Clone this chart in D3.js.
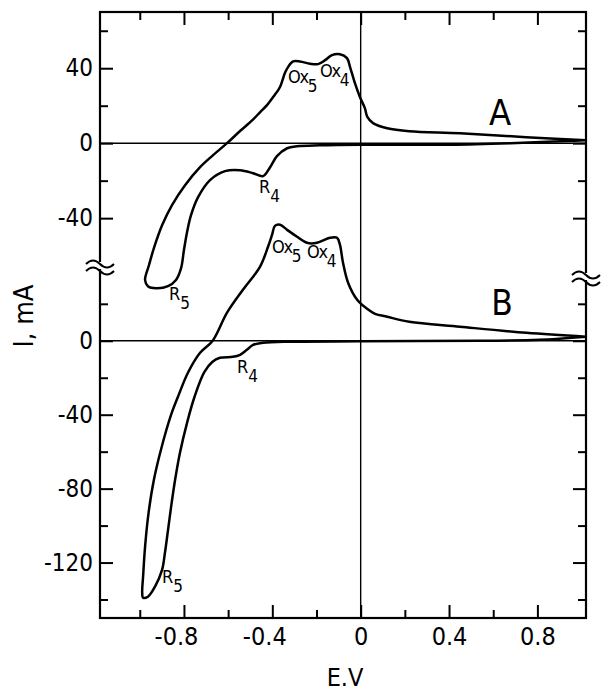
<!DOCTYPE html>
<html>
<head>
<meta charset="utf-8">
<script src="https://cdn.jsdelivr.net/npm/d3@7"></script>
<style>
  body { margin: 0; background: #fff; }
  text { font-family: 'DejaVu Sans Condensed', 'DejaVu Sans', sans-serif; fill: #000; }
</style>
</head>
<body>
<div id="chart"></div>
<script>
var svgWidth = 601;
var svgHeight = 692;

// curve A (upper voltammogram), E in V, I in mA
var potentialA = [1.02, 0.75, 0.45, 0.22, 0.12, 0.056, 0.03, 0.019, -0.003, -0.026, -0.048, -0.062, -0.094, -0.13, -0.161,
  -0.193, -0.229, -0.275, -0.306, -0.329, -0.343, -0.365, -0.397, -0.424, -0.456, -0.49, -0.546, -0.605, -0.668, -0.727, -0.795,
  -0.854, -0.899, -0.936, -0.958, -0.976, -0.963, -0.926, -0.872, -0.836, -0.813, -0.8, -0.786, -0.768, -0.736, -0.682,
  -0.614, -0.546, -0.487, -0.442, -0.41, -0.379, -0.333, -0.288, -0.184, 0, 0.4, 0.68, 0.9, 1.02];
var currentA = [1.6, 3.2, 5.3, 6.4, 8, 10.7, 14, 18.7, 24.5, 32, 40.6, 45.4, 47.5, 47, 44.3,
  42.2, 42.4, 43.6, 43.6, 40.6, 37.4, 30, 24.5, 20.3, 16.5, 12.3, 6.5, 0, -6.4, -12.8, -22.4,
  -33, -43.8, -56, -65, -73, -76.3, -77.4, -76.3, -73, -66.7, -57, -47.5, -38.4, -28.8, -19.7,
  -14.9, -14.4, -16, -17.6, -12.8, -6.9, -2.7, -1.6, -1.1, -0.8, -0.8, 0, 1, 1.6];

// curve B (lower voltammogram)
var potentialB = [1.02, 0.75, 0.45, 0.22, 0.12, 0.065, 0.029, -0.016, -0.057, -0.08, -0.094, -0.107, -0.139, -0.198, -0.243,
  -0.288, -0.333, -0.365, -0.388, -0.401, -0.419, -0.456, -0.533, -0.605, -0.67, -0.727, -0.782, -0.827, -0.858, -0.902,
  -0.936, -0.96, -0.976, -0.985, -0.989, -0.985, -0.963, -0.931, -0.899, -0.886, -0.872, -0.856, -0.84, -0.818, -0.786,
  -0.752, -0.708, -0.672, -0.637, -0.578, -0.546, -0.515, -0.487, -0.442, -0.32, 0, 0.54, 0.81, 1.02];
var currentB = [2.2, 4.3, 7.6, 10.3, 13, 14.6, 17.3, 22.2, 31.4, 42.2, 52, 55.7, 55.7, 53, 53,
  56.3, 60, 62.8, 62.2, 57.4, 51, 40, 27.6, 15.2, 0, -6.5, -17.3, -30.3, -40, -58,
  -75.2, -93, -111.5, -127.7, -135.8, -139, -138.5, -133, -124, -114.7, -102.3, -88, -75.2, -60.6, -44.4,
  -30.3, -17, -11.5, -9.2, -8.7, -7.6, -4.9, -2.2, -1.1, -0.5, -0.3, 0, 0.5, 2.2];

// ticks
var xMajor = [-0.8, -0.4, 0, 0.4, 0.8];
var xMajorLabels = ["-0.8", "-0.4", "0", "0.4", "0.8"];
var xMinor = [-1.0, -0.6, -0.2, 0.2, 0.6];
var yMajorA = [40, 0, -40];
var yMinorA = [60, 20, -20];
var yMajorB = [0, -40, -80, -120];
var yMinorB = [20, -20, -60, -100, -140];

var frame = { left: 100, right: 586, top: 12, bottom: 618, brk: 265 };

var svg = d3.select("#chart")
  .append("svg")
  .attr("width", svgWidth)
  .attr("height", svgHeight);

var x = d3.scaleLinear().domain([-1.18, 1.02]).range([frame.left, frame.right]);
var yA = d3.scaleLinear().domain([-65, 70]).range([frame.brk, frame.top]);
var yB = d3.scaleLinear().domain([-150, 41]).range([frame.bottom, frame.brk]);

// zero lines
svg.append("line")
  .attr("x1", frame.left).attr("x2", frame.right)
  .attr("y1", yA(0)).attr("y2", yA(0))
  .attr("stroke", "#000").attr("stroke-width", 1.4);
svg.append("line")
  .attr("x1", frame.left).attr("x2", frame.right)
  .attr("y1", yB(0)).attr("y2", yB(0))
  .attr("stroke", "#000").attr("stroke-width", 1.4);
svg.append("line")
  .attr("x1", x(0)).attr("x2", x(0))
  .attr("y1", frame.top).attr("y2", frame.bottom)
  .attr("stroke", "#000").attr("stroke-width", 1.4);

// axes helper
function styleAxis(g) {
  g.select(".domain").remove();
  g.selectAll(".tick line").attr("stroke", "#000").attr("stroke-width", 2);
  g.attr("font-family", null).attr("font-size", null);
  return g;
}

// left
svg.append("g").attr("transform", `translate(${frame.left},0)`)
  .call(d3.axisLeft(yA).tickValues(yMajorA).tickSize(-13).tickPadding(7).tickFormat(d => String(d)))
  .call(styleAxis)
  .selectAll("text").style("font-size", "24px");
svg.append("g").attr("transform", `translate(${frame.left},0)`)
  .call(d3.axisLeft(yA).tickValues(yMinorA).tickSize(-8).tickFormat(""))
  .call(styleAxis);
svg.append("g").attr("transform", `translate(${frame.left},0)`)
  .call(d3.axisLeft(yB).tickValues(yMajorB).tickSize(-13).tickPadding(7).tickFormat(d => String(d)))
  .call(styleAxis)
  .selectAll("text").style("font-size", "24px");
svg.append("g").attr("transform", `translate(${frame.left},0)`)
  .call(d3.axisLeft(yB).tickValues(yMinorB).tickSize(-8).tickFormat(""))
  .call(styleAxis);

// right
svg.append("g").attr("transform", `translate(${frame.right},0)`)
  .call(d3.axisRight(yA).tickValues(yMajorA).tickSize(-13).tickFormat(""))
  .call(styleAxis);
svg.append("g").attr("transform", `translate(${frame.right},0)`)
  .call(d3.axisRight(yA).tickValues(yMinorA).tickSize(-8).tickFormat(""))
  .call(styleAxis);
svg.append("g").attr("transform", `translate(${frame.right},0)`)
  .call(d3.axisRight(yB).tickValues(yMajorB).tickSize(-13).tickFormat(""))
  .call(styleAxis);
svg.append("g").attr("transform", `translate(${frame.right},0)`)
  .call(d3.axisRight(yB).tickValues(yMinorB).tickSize(-8).tickFormat(""))
  .call(styleAxis);

// bottom
var xAxisG = svg.append("g").attr("transform", `translate(0,${frame.bottom})`)
  .call(d3.axisBottom(x).tickValues(xMajor).tickSize(-13).tickPadding(9).tickFormat((d, i) => xMajorLabels[i]))
  .call(styleAxis);
xAxisG.selectAll("text")
  .style("font-size", "25px")
  .attr("dx", (d, i) => xMajorLabels[i].charAt(0) === "-" ? -8 : 0);
svg.append("g").attr("transform", `translate(0,${frame.bottom})`)
  .call(d3.axisBottom(x).tickValues(xMinor).tickSize(-8).tickFormat(""))
  .call(styleAxis);

// top
svg.append("g").attr("transform", `translate(0,${frame.top})`)
  .call(d3.axisTop(x).tickValues(xMajor).tickSize(-13).tickFormat(""))
  .call(styleAxis);
svg.append("g").attr("transform", `translate(0,${frame.top})`)
  .call(d3.axisTop(x).tickValues(xMinor).tickSize(-8).tickFormat(""))
  .call(styleAxis);

// frame
svg.append("rect")
  .attr("x", frame.left).attr("y", frame.top)
  .attr("width", frame.right - frame.left).attr("height", frame.bottom - frame.top)
  .attr("fill", "none").attr("stroke", "#000").attr("stroke-width", 2.2);

// axis break marks
function breakMark(cx, cy) {
  svg.append("rect")
    .attr("x", cx - 4).attr("y", cy - 3).attr("width", 8).attr("height", 7)
    .attr("fill", "#fff");
  [cy - 3, cy + 4].forEach(function (yy) {
    svg.append("path")
      .attr("d", `M${cx - 14},${yy + 2} q7,-7 14,0 t14,0`)
      .attr("fill", "none").attr("stroke", "#000").attr("stroke-width", 2);
  });
}
breakMark(frame.left, 265);
breakMark(frame.right, 276);

// curves
var lineA = d3.line()
  .x((d, i) => x(potentialA[i]))
  .y((d, i) => yA(currentA[i]))
  .curve(d3.curveCatmullRom.alpha(0.5));
var lineB = d3.line()
  .x((d, i) => x(potentialB[i]))
  .y((d, i) => yB(currentB[i]))
  .curve(d3.curveCatmullRom.alpha(0.5));

svg.append("path").datum(potentialA)
  .attr("d", lineA)
  .attr("fill", "none").attr("stroke", "#000").attr("stroke-width", 2.5);
svg.append("path").datum(potentialB)
  .attr("d", lineB)
  .attr("fill", "none").attr("stroke", "#000").attr("stroke-width", 2.5);

// peak labels
function peakLabel(px, py, main, sub) {
  var t = svg.append("text").attr("x", px).attr("y", py).style("font-size", "18px");
  t.append("tspan").attr("textLength", main.length > 1 ? 21 : null).text(main);
  t.append("tspan").attr("dy", 9).style("font-size", "17px").text(sub);
}
peakLabel(288, 83, "Ox", "5");
peakLabel(320, 77, "Ox", "4");
peakLabel(259, 193, "R", "4");
peakLabel(169, 300, "R", "5");
peakLabel(272, 253, "Ox", "5");
peakLabel(307, 258, "Ox", "4");
peakLabel(237, 373, "R", "4");
peakLabel(162, 583, "R", "5");

// panel letters
svg.append("text").attr("x", 500).attr("y", 125)
  .attr("text-anchor", "middle").style("font-size", "36px").text("A");
svg.append("text").attr("x", 502).attr("y", 315)
  .attr("text-anchor", "middle").style("font-size", "35px").text("B");

// axis titles
svg.append("text")
  .attr("transform", "translate(33,316) rotate(-90)")
  .attr("text-anchor", "middle").style("font-size", "27px").text("I, mA");
svg.append("text").attr("x", 345).attr("y", 686)
  .attr("text-anchor", "middle").style("font-size", "25px").text("E.V");
</script>
</body>
</html>
